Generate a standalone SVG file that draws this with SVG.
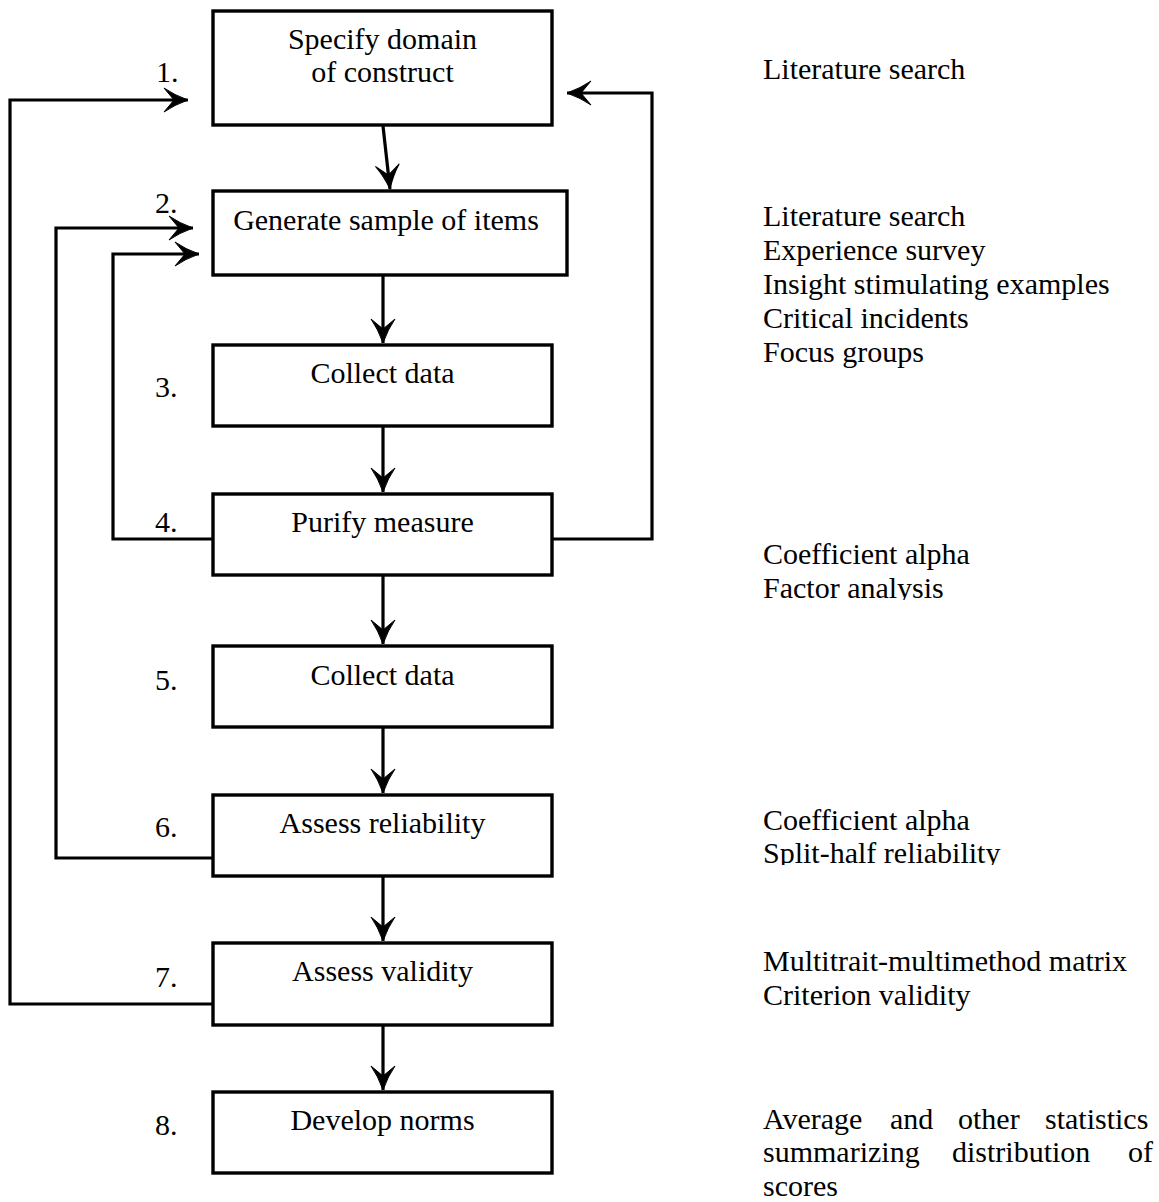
<svg xmlns="http://www.w3.org/2000/svg" width="1159" height="1202" viewBox="0 0 1159 1202">
<style>
  .box { fill: #ffffff; stroke: #000000; stroke-width: 3.4; }
  .lbl { font-family: "Liberation Serif", "Times New Roman", serif; font-size: 30px; fill: #000000; }
  .ctr { text-anchor: middle; }
  .con { fill: none; stroke: #000000; stroke-width: 3.2; stroke-linejoin: miter; }
</style>
<defs>
  <marker id="arr" markerUnits="userSpaceOnUse" markerWidth="26" markerHeight="26" refX="24" refY="12" orient="auto" overflow="visible">
    <path d="M0,0 Q10,7 24,12 Q10,17 0,24 L10,12 Z" fill="#000000" stroke="#000000" stroke-width="1" stroke-linejoin="miter"/>
  </marker>
  <clipPath id="clipA"><rect x="700" y="540" width="459" height="60"/></clipPath>
  <clipPath id="clipB"><rect x="700" y="800" width="459" height="65"/></clipPath>
</defs>
<rect width="1159" height="1202" fill="#ffffff"/>

<g id="connectors">
  <path class="con" d="M383,126 L390,189" marker-end="url(#arr)"/>
  <path class="con" d="M383,275 L383,343" marker-end="url(#arr)"/>
  <path class="con" d="M383,426 L383,492" marker-end="url(#arr)"/>
  <path class="con" d="M383,575 L383,644" marker-end="url(#arr)"/>
  <path class="con" d="M383,727 L383,793" marker-end="url(#arr)"/>
  <path class="con" d="M383,876 L383,941" marker-end="url(#arr)"/>
  <path class="con" d="M383,1025 L383,1090" marker-end="url(#arr)"/>
  <path class="con" d="M213,1004 H10 V100 H188" marker-end="url(#arr)"/>
  <path class="con" d="M213,858 H56 V228 H193" marker-end="url(#arr)"/>
  <path class="con" d="M213,539 H113 V254 H199" marker-end="url(#arr)"/>
  <path class="con" d="M552,539 H652 V93 H567" marker-end="url(#arr)"/>
</g>

<g id="node1">
  <rect class="box" x="213" y="11" width="339" height="114"/>
  <text class="lbl ctr" x="382.5" y="49">Specify domain</text>
  <text class="lbl ctr" x="382.5" y="82">of construct</text>
  <text class="lbl" x="156" y="82">1.</text>
</g>
<g id="node2">
  <rect class="box" x="213" y="191" width="354" height="84"/>
  <text class="lbl ctr" x="386" y="230">Generate sample of items</text>
  <text class="lbl" x="155" y="213">2.</text>
</g>
<g id="node3">
  <rect class="box" x="213" y="345" width="339" height="81"/>
  <text class="lbl ctr" x="382.5" y="383">Collect data</text>
  <text class="lbl" x="155" y="397">3.</text>
</g>
<g id="node4">
  <rect class="box" x="213" y="494" width="339" height="81"/>
  <text class="lbl ctr" x="382.5" y="532">Purify measure</text>
  <text class="lbl" x="155" y="532">4.</text>
</g>
<g id="node5">
  <rect class="box" x="213" y="646" width="339" height="81"/>
  <text class="lbl ctr" x="382.5" y="685">Collect data</text>
  <text class="lbl" x="155" y="690">5.</text>
</g>
<g id="node6">
  <rect class="box" x="213" y="795" width="339" height="81"/>
  <text class="lbl ctr" x="382.5" y="833">Assess reliability</text>
  <text class="lbl" x="155" y="837">6.</text>
</g>
<g id="node7">
  <rect class="box" x="213" y="943" width="339" height="82"/>
  <text class="lbl ctr" x="382.5" y="981">Assess validity</text>
  <text class="lbl" x="155" y="987">7.</text>
</g>
<g id="node8">
  <rect class="box" x="213" y="1092" width="339" height="81"/>
  <text class="lbl ctr" x="382.5" y="1130">Develop norms</text>
  <text class="lbl" x="155" y="1135">8.</text>
</g>

<g id="notes">
  <text class="lbl" x="763" y="79">Literature search</text>
  <text class="lbl" x="763" y="226">Literature search</text>
  <text class="lbl" x="763" y="260">Experience survey</text>
  <text class="lbl" x="763" y="294">Insight stimulating examples</text>
  <text class="lbl" x="763" y="328">Critical incidents</text>
  <text class="lbl" x="763" y="362">Focus groups</text>
  <g clip-path="url(#clipA)">
    <text class="lbl" x="763" y="564">Coefficient alpha</text>
    <text class="lbl" x="763" y="598">Factor analysis</text>
  </g>
  <g clip-path="url(#clipB)">
    <text class="lbl" x="763" y="830">Coefficient alpha</text>
    <text class="lbl" x="763" y="863">Split-half reliability</text>
  </g>
  <text class="lbl" x="763" y="971">Multitrait-multimethod matrix</text>
  <text class="lbl" x="763" y="1005">Criterion validity</text>
  <text class="lbl" y="1129"><tspan x="763">Average</tspan><tspan x="890">and</tspan><tspan x="958">other</tspan><tspan x="1045">statistics</tspan></text>
  <text class="lbl" y="1162"><tspan x="763">summarizing</tspan><tspan x="952">distribution</tspan><tspan x="1128">of</tspan></text>
  <text class="lbl" x="763" y="1196">scores</text>
</g>
</svg>
